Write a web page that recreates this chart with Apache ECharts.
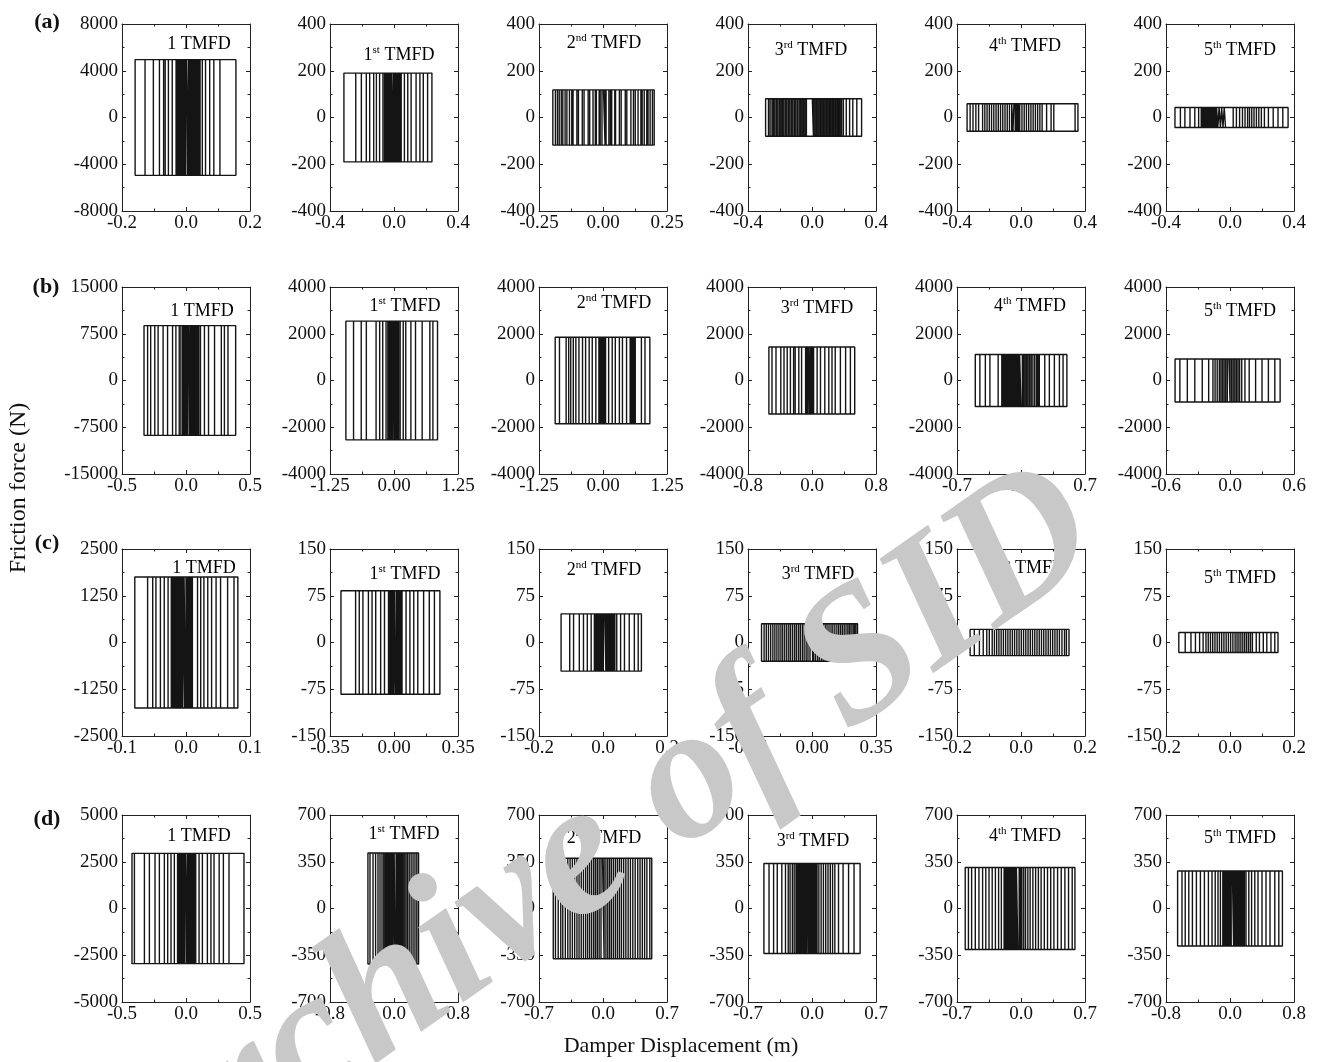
<!DOCTYPE html>
<html>
<head>
<meta charset="utf-8">
<script src="https://cdn.jsdelivr.net/npm/echarts@6/dist/echarts.min.js"></script>
<style>
  html, body { margin: 0; padding: 0; background: #fff; }
  #chart { width: 1318px; height: 1062px; }
</style>
</head>
<body>
<div id="chart"></div>
<script>
// Friction force levels (N) of each damper: rows (a)-(d), columns 1 TMFD, 1st..5th TMFD
const forceA = [4950, 190, 118, 80, 59, 43];
const forceB = [8800, 2540, 1850, 1430, 1110, 920];
const forceC = [1750, 83, 46, 30, 21, 16];
const forceD = [2950, 415, 376, 337, 307, 281];

// Axis half-ranges: displacement (m) and force (N)
const xLimA = [0.2, 0.4, 0.25, 0.4, 0.4, 0.4];
const yLimA = [8000, 400, 400, 400, 400, 400];
const xLimB = [0.5, 1.25, 1.25, 0.8, 0.7, 0.6];
const yLimB = [15000, 4000, 4000, 4000, 4000, 4000];
const xLimC = [0.1, 0.35, 0.2, 0.35, 0.2, 0.2];
const yLimC = [2500, 150, 150, 150, 150, 150];
const xLimD = [0.5, 0.8, 0.7, 0.7, 0.7, 0.8];
const yLimD = [5000, 700, 700, 700, 700, 700];

// Displacement reversal points (m) of each hysteresis record, in time order
const revA = [
  [-0.159, 0.156, -0.128, 0.106, -0.102, 0.087, -0.083, 0.074, -0.070, 0.061, -0.065, 0.051, -0.055, 0.044, -0.043, 0.040, -0.031, 0.036, -0.027, 0.032, -0.024, 0.029, -0.020, 0.025, -0.016, 0.021, -0.012, 0.018, -0.008, 0.014, -0.005, 0.011, -0.002, 0.007, 0.001, 0.004, -0.029, 0.038, -0.018, 0.027, -0.010, 0.016],
  [-0.313, 0.237, -0.239, 0.210, -0.204, 0.183, -0.173, 0.162, -0.152, 0.138, -0.127, 0.107, -0.110, 0.086, -0.090, 0.065, -0.069, 0.045, -0.059, 0.040, -0.054, 0.035, -0.049, 0.030, -0.044, 0.024, -0.038, 0.018, -0.032, 0.012, -0.026, 0.006, -0.020, 0.000, -0.014, -0.007, -0.003],
  [-0.196, 0.200, -0.186, 0.193, -0.178, 0.184, -0.171, 0.176, -0.163, 0.171, -0.157, 0.161, -0.148, 0.153, -0.141, 0.148, -0.131, 0.137, -0.122, 0.126, -0.117, 0.119, -0.102, 0.109, -0.096, 0.093, -0.081, 0.087, -0.074, 0.071, -0.058, 0.064, -0.052, 0.049, -0.039, 0.046, -0.030, 0.034, -0.026, 0.029, -0.015, 0.023, -0.011, 0.012, -0.004, 0.008, 0.002],
  [-0.290, 0.310, -0.272, 0.280, -0.262, 0.255, -0.250, 0.235, -0.241, 0.214, -0.232, 0.196, -0.222, 0.185, -0.213, 0.176, -0.203, 0.168, -0.194, 0.160, -0.185, 0.151, -0.176, 0.143, -0.166, 0.134, -0.157, 0.126, -0.147, 0.117, -0.138, 0.108, -0.128, 0.099, -0.119, 0.090, -0.109, 0.081, -0.100, 0.072, -0.090, 0.063, -0.080, 0.054, -0.071, 0.045, -0.062, 0.036, -0.053, 0.027, -0.044, 0.018, -0.035, 0.009, 0.002],
  [-0.337, 0.356, -0.318, 0.338, -0.300, 0.205, -0.282, 0.188, -0.265, 0.160, -0.240, 0.132, -0.226, 0.118, -0.212, 0.104, -0.198, 0.090, -0.184, 0.076, -0.170, 0.062, -0.156, 0.048, -0.142, 0.034, -0.128, 0.020, -0.114, 0.006, -0.100, -0.008, -0.086, -0.022, -0.072, -0.036, -0.058, -0.050, -0.044, -0.030, -0.015],
  [-0.344, 0.363, -0.310, 0.330, -0.282, 0.300, -0.250, 0.270, -0.220, 0.240, -0.196, 0.215, -0.180, 0.196, -0.172, 0.180, -0.164, 0.165, -0.156, 0.150, -0.148, 0.136, -0.140, 0.122, -0.132, 0.110, -0.124, 0.094, -0.116, 0.078, -0.108, 0.060, -0.100, 0.040, -0.092, 0.020, -0.084, -0.076, -0.068, -0.060, -0.052, -0.044, -0.036, -0.028]
];
const revB = [
  [-0.328, 0.388, -0.300, 0.328, -0.276, 0.300, -0.244, 0.276, -0.218, 0.223, -0.179, 0.176, -0.144, 0.144, -0.105, 0.113, -0.079, 0.090, -0.053, 0.079, -0.026, 0.072, -0.019, 0.064, -0.012, 0.056, -0.004, 0.048, 0.004, 0.040, 0.012, 0.032, 0.020, 0.026, -0.040, 0.100],
  [-0.940, 0.850, -0.790, 0.760, -0.640, 0.700, -0.540, 0.550, -0.350, 0.420, -0.280, 0.330, -0.220, 0.230, -0.155, 0.180, -0.120, 0.120, -0.090, 0.070, -0.075, 0.055, -0.060, 0.040, -0.045, 0.025, -0.030, 0.010, -0.015, 0.000, -0.100, 0.090],
  [-0.934, 0.915, -0.850, 0.820, -0.720, 0.750, -0.670, 0.630, -0.630, 0.610, -0.580, 0.590, -0.530, 0.570, -0.470, 0.550, -0.400, 0.530, -0.340, 0.460, -0.270, 0.380, -0.210, 0.320, -0.140, 0.240, -0.080, 0.180, -0.060, 0.110, -0.040, 0.050, -0.020, 0.035, -0.005, 0.020, 0.008],
  [-0.539, 0.534, -0.500, 0.480, -0.450, 0.420, -0.390, 0.355, -0.350, 0.290, -0.310, 0.250, -0.270, 0.210, -0.230, 0.160, -0.210, 0.106, -0.165, 0.064, -0.130, 0.020, -0.080, 0.010, -0.070, 0.000, -0.060, -0.010, -0.050, -0.020, -0.040, -0.030],
  [-0.500, 0.502, -0.450, 0.460, -0.390, 0.420, -0.340, 0.365, -0.250, 0.310, -0.210, 0.260, -0.195, 0.200, -0.180, 0.185, -0.165, 0.170, -0.150, 0.150, -0.135, 0.130, -0.120, 0.112, -0.105, 0.095, -0.090, 0.078, -0.075, 0.062, -0.060, 0.046, -0.045, 0.030, -0.030, 0.015, -0.015, 0.000],
  [-0.515, 0.470, -0.470, 0.420, -0.400, 0.360, -0.330, 0.300, -0.260, 0.240, -0.200, 0.180, -0.160, 0.140, -0.140, 0.110, -0.120, 0.090, -0.100, 0.075, -0.085, 0.060, -0.070, 0.045, -0.055, 0.030, -0.040, 0.015, -0.025, 0.000, -0.010]
];
const revC = [
  [-0.080, 0.081, -0.060, 0.075, -0.052, 0.065, -0.047, 0.054, -0.040, 0.047, -0.034, 0.040, -0.028, 0.034, -0.023, 0.028, -0.021, 0.023, -0.019, 0.018, -0.017, 0.010, -0.015, 0.008, -0.013, 0.006, -0.011, 0.004, -0.009, 0.002, -0.007, 0.000, -0.005, -0.002, -0.003, -0.001],
  [-0.290, 0.251, -0.210, 0.221, -0.190, 0.193, -0.170, 0.162, -0.140, 0.130, -0.120, 0.108, -0.100, 0.087, -0.073, 0.066, -0.052, 0.044, -0.030, 0.039, -0.025, 0.034, -0.020, 0.029, -0.015, 0.024, -0.010, 0.019, -0.005, 0.014, 0.000, 0.009, 0.004],
  [-0.131, 0.120, -0.104, 0.110, -0.092, 0.098, -0.074, 0.082, -0.061, 0.067, -0.049, 0.055, -0.037, 0.043, -0.027, 0.037, -0.023, 0.033, -0.019, 0.029, -0.015, 0.025, -0.011, 0.021, -0.007, 0.017, -0.003, 0.013, 0.001, 0.009, 0.005],
  [-0.276, 0.249, -0.262, 0.240, -0.250, 0.232, -0.238, 0.224, -0.226, 0.214, -0.214, 0.205, -0.203, 0.196, -0.192, 0.186, -0.181, 0.176, -0.170, 0.166, -0.160, 0.156, -0.149, 0.146, -0.138, 0.136, -0.127, 0.125, -0.117, 0.114, -0.106, 0.104, -0.095, 0.093, -0.085, 0.082, -0.074, 0.072, -0.064, 0.061, -0.053, 0.051, -0.043, 0.040, -0.032, 0.030, -0.022, 0.019, -0.011, 0.009, -0.001, 0.004],
  [-0.159, 0.150, -0.146, 0.142, -0.130, 0.136, -0.118, 0.128, -0.107, 0.120, -0.099, 0.113, -0.090, 0.106, -0.083, 0.099, -0.076, 0.092, -0.069, 0.085, -0.062, 0.078, -0.055, 0.071, -0.048, 0.064, -0.041, 0.057, -0.034, 0.050, -0.027, 0.043, -0.020, 0.036, -0.013, 0.029, -0.006, 0.022, 0.001, 0.015, 0.008],
  [-0.160, 0.150, -0.140, 0.140, -0.122, 0.128, -0.108, 0.115, -0.095, 0.104, -0.084, 0.092, -0.075, 0.082, -0.068, 0.070, -0.061, 0.064, -0.054, 0.058, -0.047, 0.052, -0.040, 0.046, -0.033, 0.040, -0.026, 0.034, -0.019, 0.028, -0.012, 0.022, -0.005, 0.016, 0.002, 0.009]
];
const revD = [
  [-0.422, 0.453, -0.403, 0.336, -0.325, 0.292, -0.286, 0.259, -0.242, 0.219, -0.208, 0.195, -0.169, 0.167, -0.143, 0.128, -0.117, 0.102, -0.091, 0.076, -0.066, 0.068, -0.058, 0.060, -0.050, 0.052, -0.042, 0.044, -0.034, 0.036, -0.026, 0.028, -0.018, 0.020, -0.010, 0.012, -0.002, 0.004],
  [-0.326, 0.307, -0.300, 0.285, -0.262, 0.262, -0.230, 0.238, -0.200, 0.214, -0.175, 0.190, -0.150, 0.168, -0.128, 0.148, -0.110, 0.128, -0.094, 0.110, -0.080, 0.094, -0.066, 0.078, -0.054, 0.064, -0.042, 0.050, -0.030, 0.038, -0.020, 0.026, -0.010, 0.014, 0.002],
  [-0.544, 0.533, -0.520, 0.512, -0.490, 0.480, -0.462, 0.455, -0.440, 0.430, -0.412, 0.405, -0.385, 0.380, -0.360, 0.352, -0.335, 0.326, -0.310, 0.300, -0.285, 0.275, -0.262, 0.250, -0.238, 0.226, -0.214, 0.202, -0.190, 0.180, -0.168, 0.158, -0.146, 0.136, -0.124, 0.114, -0.102, 0.092, -0.082, 0.072, -0.062, 0.052, -0.042, 0.032, -0.022, 0.012, -0.005],
  [-0.526, 0.526, -0.470, 0.460, -0.420, 0.400, -0.380, 0.340, -0.330, 0.290, -0.290, 0.250, -0.260, 0.225, -0.240, 0.200, -0.215, 0.175, -0.195, 0.150, -0.175, 0.125, -0.160, 0.100, -0.145, 0.075, -0.135, 0.055, -0.125, 0.040, -0.115, 0.030, -0.105, 0.020, -0.095, 0.010, -0.085, 0.000, -0.075, -0.010, -0.065, -0.020, -0.055, -0.030, -0.045, -0.038],
  [-0.610, 0.590, -0.575, 0.560, -0.540, 0.520, -0.500, 0.480, -0.460, 0.440, -0.420, 0.400, -0.385, 0.360, -0.350, 0.325, -0.315, 0.290, -0.280, 0.255, -0.245, 0.220, -0.215, 0.190, -0.185, 0.160, -0.170, 0.130, -0.155, 0.100, -0.140, 0.075, -0.125, 0.050, -0.110, 0.030, -0.095, 0.010, -0.080, -0.005, -0.065, -0.020, -0.050, -0.035],
  [-0.655, 0.655, -0.600, 0.610, -0.560, 0.560, -0.515, 0.500, -0.470, 0.450, -0.420, 0.400, -0.370, 0.350, -0.320, 0.310, -0.270, 0.270, -0.225, 0.235, -0.185, 0.200, -0.150, 0.180, -0.120, 0.165, -0.090, 0.150, -0.075, 0.135, -0.060, 0.120, -0.045, 0.105, -0.030, 0.090, -0.015, 0.075, 0.000, 0.060, 0.015, 0.045, 0.030]
];

// Text
const rowLetters = ['(a)', '(b)', '(c)', '(d)'];
const damperNumbers = ['1', '1', '2', '3', '4', '5'];
const damperSuffixes = ['', 'st', 'nd', 'rd', 'th', 'th'];
const xTitle = 'Damper Displacement (m)';
const yTitle = 'Friction force (N)';
const watermark = 'Archive of SID';

// Layout of the 4 x 6 panel grid (px)
const colLeft = [122, 330, 539, 748, 957, 1166];
const rowTop = [24, 287, 549, 815];
const plotW = 128, plotH = 187;
// Label centres inside each panel, relative to its top-left corner
const titleOffset = [
  [[77, 20], [69, 31], [65, 19], [63, 26], [68, 22], [74, 26]],
  [[80, 24], [75, 19], [75, 16], [69, 21], [73, 19], [74, 24]],
  [[82, 19], [75, 25], [65, 21], [70, 25], [72, 19], [74, 29]],
  [[77, 21], [74, 19], [65, 23], [65, 26], [68, 21], [74, 23]]
];
const letterPos = [[47, 22], [46, 287], [47, 543], [47, 819]];

const rows = [
  { force: forceA, rev: revA, xLim: xLimA, yLim: yLimA },
  { force: forceB, rev: revB, xLim: xLimB, yLim: yLimB },
  { force: forceC, rev: revC, xLim: xLimC, yLim: yLimC },
  { force: forceD, rev: revD, xLim: xLimD, yLim: yLimD }
];

// Rigid-plastic friction loop: starts at zero displacement, force stays at +/-F
// between reversals and switches sign at each reversal point
function loopPath(rev, F) {
  let s = rev[0] < 0 ? -1 : 1;
  const pts = [[0, s * F]];
  for (let i = 0; i < rev.length; i++) {
    pts.push([rev[i], s * F]);
    s = -s;
    pts.push([rev[i], s * F]);
  }
  return pts;
}

const FONT = 'Liberation Serif';
const INK = '#141414';
const axisLine = { show: true, onZero: false, lineStyle: { color: '#222', width: 1 } };
const axisTick = { show: true, inside: true, length: 4, lineStyle: { color: '#222', width: 1 } };
const minorTick = { show: true, splitNumber: 2, length: 2.5, lineStyle: { color: '#222', width: 1 } };
const tickFont = { fontFamily: FONT, fontSize: 19, color: '#111' };

const grids = [], xAxes = [], yAxes = [], series = [], graphics = [];

rows.forEach((row, r) => {
  for (let c = 0; c < 6; c++) {
    const gi = grids.length;
    grids.push({ left: colLeft[c], top: rowTop[r], width: plotW, height: plotH });
    const xl = row.xLim[c], yl = row.yLim[c];
    const dec = Math.max(1, (String(xl).split('.')[1] || '').length);
    const xBase = { gridIndex: gi, type: 'value', min: -xl, max: xl, interval: xl,
      axisLine, axisTick, minorTick, splitLine: { show: false } };
    const yBase = { gridIndex: gi, type: 'value', min: -yl, max: yl, interval: yl / 2,
      axisLine, axisTick, minorTick, splitLine: { show: false } };
    xAxes.push(Object.assign({}, xBase, { position: 'bottom',
      axisLabel: Object.assign({ margin: 3, showMinLabel: true, showMaxLabel: true,
        formatter: v => v.toFixed(dec) }, tickFont) }));
    xAxes.push(Object.assign({}, xBase, { position: 'top', axisLabel: { show: false } }));
    yAxes.push(Object.assign({}, yBase, { position: 'left',
      axisLabel: Object.assign({ margin: 4, showMinLabel: true, showMaxLabel: true,
        formatter: v => String(Math.round(v)) }, tickFont) }));
    yAxes.push(Object.assign({}, yBase, { position: 'right', axisLabel: { show: false } }));

    series.push({
      type: 'line', xAxisIndex: 2 * gi, yAxisIndex: 2 * gi,
      data: loopPath(row.rev[c], row.force[c]),
      showSymbol: false, symbol: 'none', silent: true, animation: false,
      lineStyle: { color: INK, width: 1.4 }
    });

    const off = titleOffset[r][c];
    const txt = damperSuffixes[c]
      ? '{n|' + damperNumbers[c] + '}{s|' + damperSuffixes[c] + '}{n| TMFD}'
      : '{n|' + damperNumbers[c] + ' TMFD}';
    graphics.push({
      type: 'text', x: colLeft[c] + off[0], y: rowTop[r] + off[1], z: 50,
      style: {
        text: txt, align: 'center', verticalAlign: 'middle',
        rich: {
          n: { fontFamily: FONT, fontSize: 18, color: '#111', lineHeight: 20 },
          s: { fontFamily: FONT, fontSize: 11, color: '#111', verticalAlign: 'top', lineHeight: 20 }
        }
      }
    });
  }
  graphics.push({
    type: 'text', x: letterPos[r][0], y: letterPos[r][1], z: 50,
    style: { text: rowLetters[r], fontFamily: FONT, fontSize: 22, fontWeight: 'bold',
      fill: '#111', align: 'center', verticalAlign: 'middle' }
  });
});

graphics.push({
  type: 'text', x: 681, y: 1046, z: 50,
  style: { text: xTitle, fontFamily: FONT, fontSize: 22, fill: '#111',
    align: 'center', verticalAlign: 'middle' }
});
graphics.push({
  type: 'text', x: 19, y: 488, rotation: Math.PI / 2, z: 50,
  style: { text: yTitle, fontFamily: FONT, fontSize: 24, fill: '#111',
    align: 'center', verticalAlign: 'middle' }
});
// Light grey repository stamp laid diagonally across the figure
graphics.push({
  type: 'text', x: 595, y: 850, rotation: 35 * Math.PI / 180, z: 100,
  style: { text: watermark, fontFamily: FONT, fontSize: 190, fontStyle: 'italic',
    fontWeight: 'bold', fill: '#c8c8c8', align: 'center', verticalAlign: 'middle' }
});

const chart = echarts.init(document.getElementById('chart'), null, { renderer: 'canvas' });
chart.setOption({
  backgroundColor: '#ffffff',
  animation: false,
  grid: grids,
  xAxis: xAxes,
  yAxis: yAxes,
  series: series,
  graphic: graphics
});
</script>
</body>
</html>
